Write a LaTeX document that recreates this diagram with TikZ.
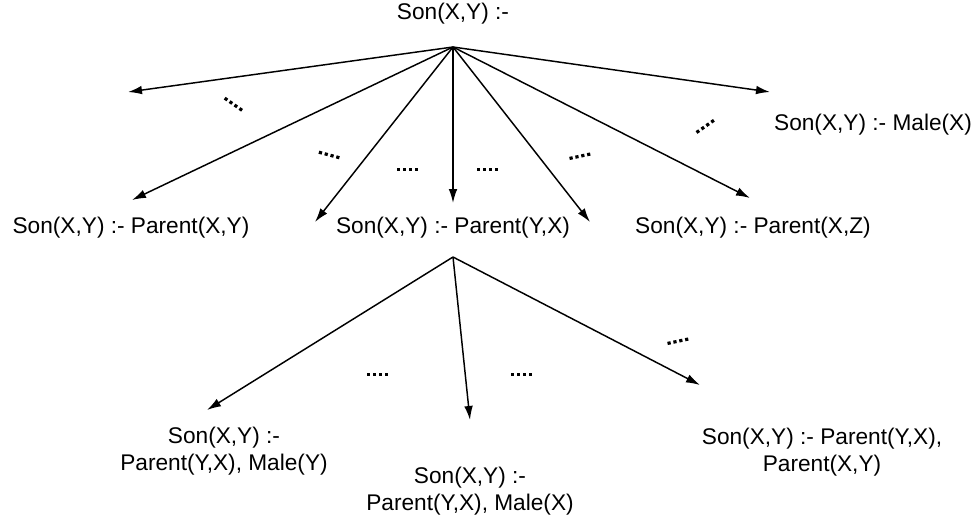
\documentclass[tikz,border=0pt]{standalone}
\usepackage{fontspec}
\setmainfont{Liberation Sans}
\usetikzlibrary{arrows.meta}
\begin{document}
\begin{tikzpicture}[x=0.75pt,y=-0.75pt,
  lbl/.style={inner sep=0pt,align=center,font=\fontsize{17}{20}\selectfont},
  arr/.style={line width=1.1pt,-{Latex[length=10.5pt,width=6.5pt]}},
  dots/.pic={\foreach \i in {-1.5,-0.5,0.5,1.5} \fill (\i*6,0) rectangle ++(3.2,3.2);}]
\useasboundingbox (0,0) rectangle (972,522);
% labels
\node[lbl] (root) at (453,14) {Son(X,Y) :-};
\node[lbl] (pxy) at (131,228) {Son(X,Y) :- Parent(X,Y)};
\node[lbl] (pyx) at (453,228) {Son(X,Y) :- Parent(Y,X)};
\node[lbl] (pxz) at (753,228) {Son(X,Y) :- Parent(X,Z)};
\node[lbl] (mx) at (873,125) {Son(X,Y) :- Male(X)};
\node[lbl] (my) at (224,451) {Son(X,Y) :-\\Parent(Y,X), Male(Y)};
\node[lbl] (mx2) at (470,491) {Son(X,Y) :-\\Parent(Y,X), Male(X)};
\node[lbl] (pp) at (822,452) {Son(X,Y) :- Parent(Y,X),\\Parent(X,Y)};
% apexes and tips
\coordinate (a1) at (453,47);
\coordinate (t1) at (128,92);
\coordinate (t2) at (132,200);
\coordinate (t3) at (315,222);
\coordinate (t4) at (453,203);
\coordinate (t5) at (590,222);
\coordinate (t6) at (750,198);
\coordinate (t7) at (770,92);
\coordinate (a2) at (453,257);
\coordinate (u1) at (207,410);
\coordinate (u2) at (470,420);
\coordinate (u3) at (700,385);
\foreach \t in {t1,t2,t3,t4,t5,t6,t7} \draw[arr] (a1) -- (\t);
\foreach \t in {u1,u2,u3} \draw[arr] (a2) -- (\t);
% dots
\pic[rotate=-35] at (233,102) {dots};
\pic[rotate=-15] at (328,153) {dots};
\pic at (406,168) {dots};
\pic at (486,168) {dots};
\pic[rotate=12] at (578,155) {dots};
\pic[rotate=35] at (703,126) {dots};
\pic at (376,373) {dots};
\pic at (520,373) {dots};
\pic[rotate=12] at (676,340) {dots};
\end{tikzpicture}
\end{document}
